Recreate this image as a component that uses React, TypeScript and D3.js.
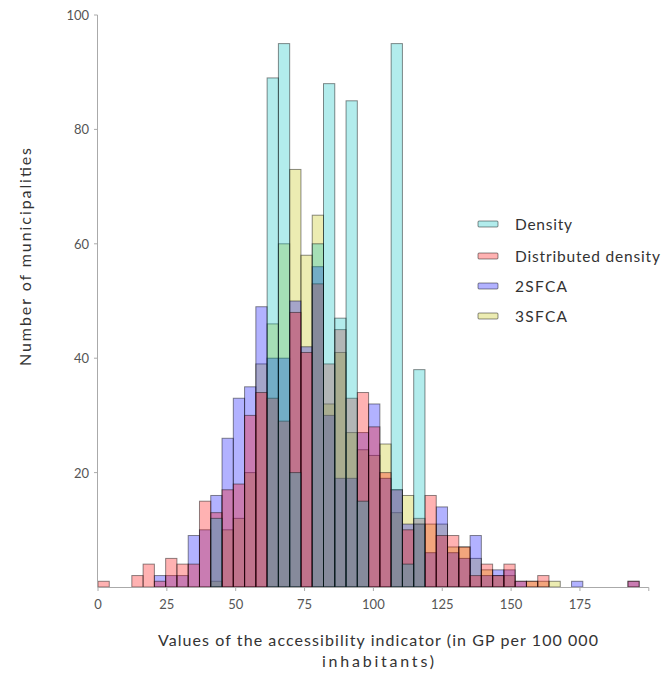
import React from 'react';
import * as d3 from 'd3';

const width = 664;
const height = 679;

// histogram bins: 48 bins of equal width starting at 0
const binStart = 0;
const binWidth = 4.094;

const seriesNames = ['Density', 'Distributed density', '2SFCA', '3SFCA'];

// counts per bin (index 0..47)
const density = [
  0, 0, 0, 0, 0, 0, 0, 0, 0, 0,
  12, 0, 0, 0, 0, 89, 95, 20, 0, 60,
  88, 47, 85, 15, 0, 0, 95, 4, 38, 0,
  0, 0, 0, 0, 0, 0, 0, 0, 0, 0,
  0, 0, 0, 0, 0, 0, 0, 0,
];
const distributed = [
  1, 0, 0, 2, 4, 1, 5, 4, 4, 15,
  13, 17, 18, 30, 34, 33, 29, 48, 41, 53,
  39, 45, 33, 34, 28, 20, 17, 10, 12, 16,
  9, 9, 7, 2, 4, 2, 4, 1, 1, 2,
  0, 0, 0, 0, 0, 0, 0, 1,
];
const twoSFCA = [
  0, 0, 0, 0, 0, 2, 2, 2, 9, 10,
  16, 26, 33, 35, 49, 40, 40, 50, 42, 56,
  30, 19, 19, 27, 32, 19, 17, 11, 11, 6,
  14, 6, 5, 9, 2, 3, 3, 1, 0, 0,
  0, 0, 1, 0, 0, 0, 0, 1,
];
const threeSFCA = [
  0, 0, 0, 0, 0, 0, 0, 0, 0, 0,
  1, 10, 12, 20, 39, 46, 60, 73, 58, 65,
  32, 41, 27, 24, 23, 25, 13, 16, 11, 11,
  11, 7, 7, 5, 3, 2, 2, 0, 1, 1,
  1, 0, 0, 0, 0, 0, 0, 0,
];

const xTicks = [0, 25, 50, 75, 100, 125, 150, 175];
const yTicks = [20, 40, 60, 80, 100];

const colors = ['#00bfbf', '#ff0000', '#0000ff', '#bfbf00'];
const font = 'Lato, "Noto Sans", sans-serif';

export default function App() {
  const x = d3.scaleLinear().domain([0, 200]).range([98, 648.8]);
  const y = d3.scaleLinear().domain([0, 100]).range([587, 15]);

  const series = [density, distributed, twoSFCA, threeSFCA];
  // drawn back to front: 3SFCA first, Density on top
  const drawOrder = [3, 2, 1, 0];

  const legendY = [224, 256, 286, 316];
  const legendLen = [57, 145, 52, 52];

  return (
    <svg width={width} height={height}
      style={{ position: 'absolute', left: 0, top: 0, background: '#fff' }}>
      {drawOrder.map(s => (
        <g key={s}>
          {series[s].map((c, i) => c > 0 && (
            <rect key={i}
              x={x(binStart + i * binWidth)}
              width={x(binStart + (i + 1) * binWidth) - x(binStart + i * binWidth)}
              y={y(c)}
              height={y(0) - y(c)}
              fill={colors[s]} fillOpacity={0.3}
              stroke="#000" strokeOpacity={0.45} strokeWidth={1} />
          ))}
        </g>
      ))}

      {/* axes */}
      <line x1={97.5} x2={97.5} y1={y(100)} y2={y(0)} stroke="#aaa" />
      <line x1={97.5} x2={x(200)} y1={587.5} y2={587.5} stroke="#aaa" />
      {yTicks.map(t => (
        <g key={t}>
          <line x1={94} x2={97.5} y1={y(t)} y2={y(t)} stroke="#aaa" />
          <text x={89} y={y(t) + 5} textAnchor="end" fontSize={13}
            fill="#555" fontFamily={font}>{t}</text>
        </g>
      ))}
      {xTicks.concat([200]).map(t => (
        <line key={t} x1={x(t)} x2={x(t)} y1={587.5} y2={591} stroke="#aaa" />
      ))}
      {xTicks.map(t => (
        <text key={t} x={x(t)} y={609} textAnchor="middle" fontSize={13}
          fill="#555" fontFamily={font}>{t}</text>
      ))}

      <text x={378} y={646} textAnchor="middle" fontSize={16} fill="#333"
        fontFamily={font} textLength={440} lengthAdjust="spacing">
        Values of the accessibility indicator (in GP per 100 000</text>
      <text x={378} y={667} textAnchor="middle" fontSize={16} fill="#333"
        fontFamily={font} textLength={112} lengthAdjust="spacing">inhabitants)</text>
      <text transform="translate(31,257) rotate(-90)" textAnchor="middle" fontSize={16}
        fill="#333" fontFamily={font} textLength={218} lengthAdjust="spacing">
        Number of municipalities</text>

      {/* legend */}
      {seriesNames.map((n, s) => (
        <g key={n}>
          <rect x={478} y={legendY[s] - 3} width={20} height={6} rx={1}
            fill={colors[s]} fillOpacity={0.3} stroke="#000" strokeOpacity={0.45} />
          <text x={515} y={legendY[s] + 5.5} fontSize={15.5} fill="#333"
            fontFamily={font} textLength={legendLen[s]} lengthAdjust="spacing">{n}</text>
        </g>
      ))}
    </svg>
  );
}
